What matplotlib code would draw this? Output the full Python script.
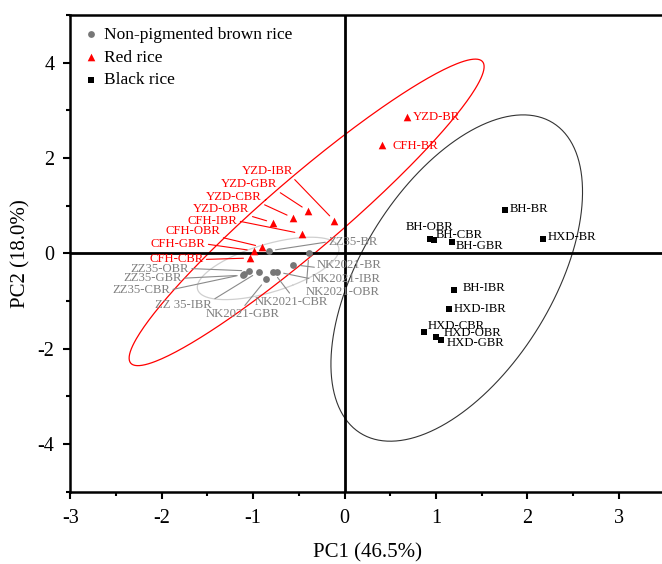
import numpy as np
import matplotlib
matplotlib.use("Agg")
import matplotlib.pyplot as plt
from matplotlib.ticker import MultipleLocator

plt.rcParams['font.family'] = ['Liberation Serif', 'DejaVu Serif']
plt.rcParams['axes.unicode_minus'] = False

# ---------------- data ----------------
grey_names = ["ZZ35-BR", "NK2021-BR", "NK2021-IBR", "NK2021-OBR", "NK2021-CBR",
              "NK2021-GBR", "ZZ 35-IBR", "ZZ35-CBR", "ZZ35-GBR", "ZZ35-OBR"]
grey_pc1 = [-0.83, -0.56, -0.74, -0.39, -0.78, -0.86, -0.94, -1.10, -1.11, -1.05]
grey_pc2 = [0.05, -0.24, -0.39, 0.00, -0.39, -0.55, -0.39, -0.44, -0.46, -0.37]

red_names = ["YZD-BR", "CFH-BR", "YZD-IBR", "YZD-GBR", "YZD-CBR", "YZD-OBR",
             "CFH-IBR", "CFH-OBR", "CFH-GBR", "CFH-CBR"]
red_pc1 = [0.68, 0.41, -0.11, -0.40, -0.56, -0.78, -0.47, -0.90, -0.99, -1.03]
red_pc2 = [2.87, 2.27, 0.68, 0.89, 0.74, 0.64, 0.41, 0.13, 0.05, -0.10]

black_names = ["BH-BR", "HXD-BR", "BH-OBR", "BH-CBR", "BH-GBR", "BH-IBR",
               "HXD-IBR", "HXD-CBR", "HXD-OBR", "HXD-GBR"]
black_pc1 = [1.76, 2.17, 0.93, 0.98, 1.17, 1.20, 1.14, 0.87, 1.00, 1.05]
black_pc2 = [0.91, 0.29, 0.29, 0.27, 0.23, -0.78, -1.17, -1.66, -1.76, -1.82]

group_labels = ["Non-pigmented brown rice", "Red rice", "Black rice"]
x_label = "PC1 (46.5%)"
y_label = "PC2 (18.0%)"

# ---------------- label layout (text anchor x, y, leader relpos) ----------------
grey_layout = {
    "ZZ35-BR":    (-0.18, 0.24, (0.0, 0.5)),
    "NK2021-BR":  (-0.30, -0.25, (0.0, 0.3)),
    "NK2021-IBR": (-0.36, -0.54, (0.0, 0.5)),
    "NK2021-OBR": (-0.42, -0.81, (0.0, 0.8)),
    "NK2021-CBR": (-0.98, -1.02, (0.5, 1.0)),
    "NK2021-GBR": (-1.52, -1.28, (0.5, 1.0)),
    "ZZ 35-IBR":  (-2.07, -1.09, (1.0, 0.9)),
    "ZZ35-CBR":   (-2.54, -0.77, (1.0, 0.5)),
    "ZZ35-GBR":   (-2.42, -0.525, (1.0, 0.5)),
    "ZZ35-OBR":   (-2.34, -0.32, (1.0, 0.5)),
}
red_layout = {
    "YZD-BR":  (0.75, 2.86, None),
    "CFH-BR":  (0.52, 2.26, None),
    "YZD-IBR": (-1.125, 1.73, (0.98, 0.0)),
    "YZD-GBR": (-1.35, 1.45, (0.98, 0.0)),
    "YZD-CBR": (-1.515, 1.18, (0.98, 0.0)),
    "YZD-OBR": (-1.654, 0.92, (0.98, 0.0)),
    "CFH-IBR": (-1.716, 0.68, (1.0, 0.5)),
    "CFH-OBR": (-1.956, 0.47, (0.98, 0.0)),
    "CFH-GBR": (-2.12, 0.195, (1.0, 0.5)),
    "CFH-CBR": (-2.135, -0.13, (1.0, 0.5)),
}
black_layout = {
    "BH-BR":   (1.81, 0.92, None),
    "HXD-BR":  (2.22, 0.35, None),
    "BH-OBR":  (0.673, 0.56, None),
    "BH-CBR":  (1.00, 0.39, None),
    "BH-GBR":  (1.216, 0.15, None),
    "BH-IBR":  (1.293, -0.735, None),
    "HXD-IBR": (1.19, -1.18, None),
    "HXD-CBR": (0.91, -1.53, None),
    "HXD-OBR": (1.081, -1.68, None),
    "HXD-GBR": (1.118, -1.89, None),
}


def ellipse_path(x, y, conf=0.95, npts=300):
    x = np.asarray(x, float)
    y = np.asarray(y, float)
    n = len(x)
    cov = np.cov(x, y)
    d2 = n - 2
    fq = d2 / 2.0 * ((1 - conf) ** (-2.0 / d2) - 1)
    k = np.sqrt(2.0 * (n - 1) * (n + 1) / (n * (n - 2)) * fq)
    vals, vecs = np.linalg.eigh(cov)
    t = np.linspace(0, 2 * np.pi, npts)
    circ = np.vstack([np.cos(t), np.sin(t)])
    pts = vecs @ (np.sqrt(vals)[:, None] * circ) * k
    return x.mean() + pts[0], y.mean() + pts[1]


fig = plt.figure(figsize=(6.62, 5.64), dpi=100)
ax = fig.add_axes([0.1062, 0.1285, 0.8976, 0.8449])

GREY_PT = "#777777"
GREY_TXT = "#808080"
RED = "#ff0000"

# ellipses
ex, ey = ellipse_path(grey_pc1, grey_pc2)
ax.plot(ex, ey, color="#cfcfcf", lw=0.9, zorder=1)
ex, ey = ellipse_path(red_pc1, red_pc2)
ax.plot(ex, ey, color=RED, lw=0.9, zorder=1)
ex, ey = ellipse_path(black_pc1, black_pc2)
ax.plot(ex, ey, color="#333333", lw=0.8, zorder=1)

ax.axhline(0, color="black", lw=2.0, zorder=2)
ax.axvline(0, color="black", lw=2.0, zorder=2)

ax.scatter(grey_pc1, grey_pc2, marker="o", s=24, color=GREY_PT, zorder=4,
           label=group_labels[0], linewidths=0)
ax.scatter(red_pc1, red_pc2, marker="^", s=30, color=RED, zorder=4,
           label=group_labels[1], linewidths=0)
ax.scatter(black_pc1, black_pc2, marker="s", s=20, color="black", zorder=4,
           label=group_labels[2], linewidths=0)


def put_labels(names, xs, ys, layout, color, lcolor):
    for nm, px, py in zip(names, xs, ys):
        tx, ty, rp = layout[nm]
        if rp is None:
            ax.annotate(nm, xy=(px, py), xytext=(tx, ty), textcoords="data",
                        ha="left", va="center", fontsize=9.2, color=color, zorder=5)
        else:
            ax.annotate(nm, xy=(px, py), xytext=(tx, ty), textcoords="data",
                        ha="left", va="center", fontsize=9.2, color=color, zorder=5,
                        arrowprops=dict(arrowstyle="-", color=lcolor, lw=0.8,
                                        shrinkA=0, shrinkB=5, relpos=rp))


put_labels(grey_names, grey_pc1, grey_pc2, grey_layout, GREY_TXT, "#8a8a8a")
put_labels(red_names, red_pc1, red_pc2, red_layout, RED, RED)
put_labels(black_names, black_pc1, black_pc2, black_layout, "black", "black")

ax.set_xlim(-3, 3.5)
ax.set_ylim(-5, 5)
ax.xaxis.set_major_locator(MultipleLocator(1))
ax.xaxis.set_minor_locator(MultipleLocator(0.5))
ax.yaxis.set_major_locator(MultipleLocator(2))
ax.yaxis.set_minor_locator(MultipleLocator(1))
ax.tick_params(which="major", direction="out", length=5, width=1.5, labelsize=14.5)
ax.tick_params(axis="x", which="major", pad=7.5)
ax.tick_params(axis="y", which="major", pad=6.5)
ax.tick_params(which="minor", direction="out", length=3, width=1.5)
for s in ax.spines.values():
    s.set_linewidth(1.8)

ax.set_xlabel(x_label, fontsize=15, labelpad=11)
ax.set_ylabel(y_label, fontsize=15, labelpad=5)

leg = ax.legend(loc="upper left", bbox_to_anchor=(0.0, 0.997), frameon=False,
                fontsize=12.5, handletextpad=0.15, labelspacing=0.37,
                borderaxespad=0.2, scatterpoints=1, handlelength=1.2)

fig.savefig("out.png", dpi=100)
